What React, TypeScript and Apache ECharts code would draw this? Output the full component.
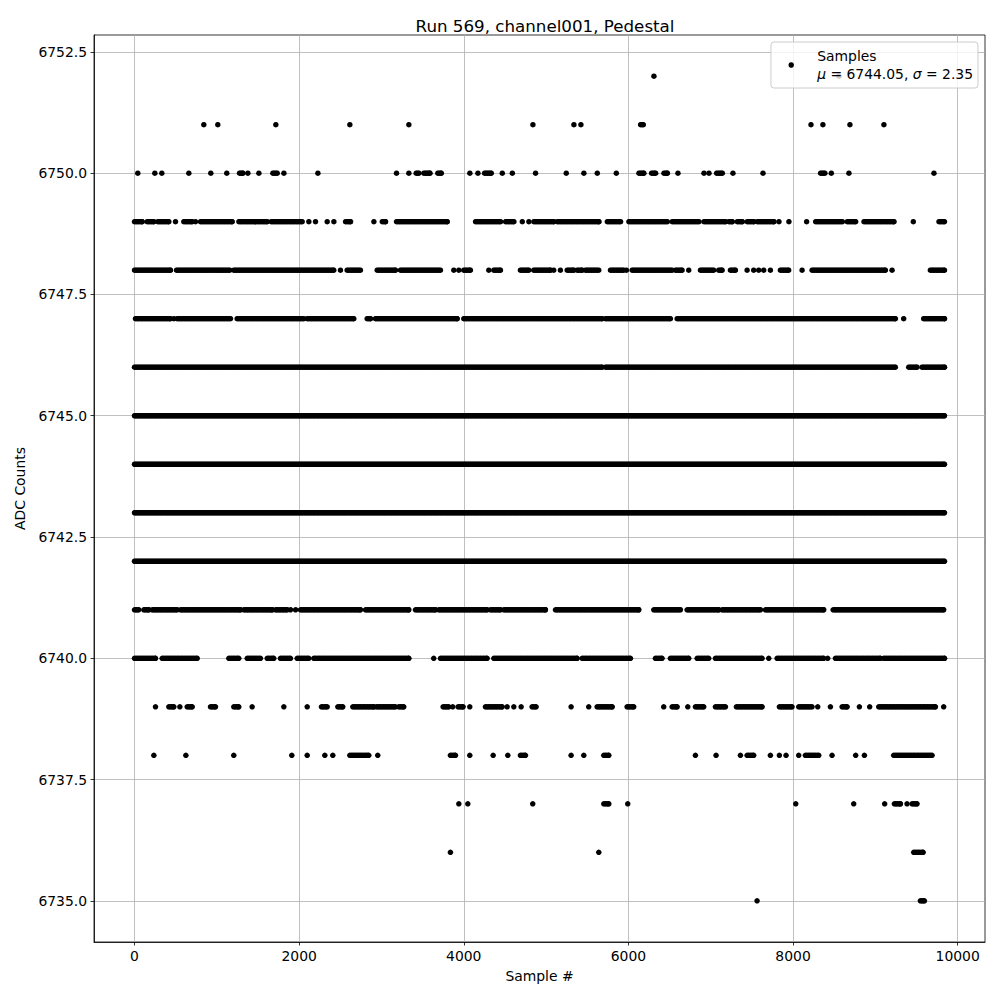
import React, { useEffect, useRef } from "react";
import * as echarts from "echarts";

type Run = number | [number, number];

const chartTitle = "Run 569, channel001, Pedestal";
const xAxisName = "Sample #";
const yAxisName = "ADC Counts";
const legendName = "Samples";
const legendStats = "{i|μ} = 6744.05, {i|σ} = 2.35";

const xTicks = [0, 2000, 4000, 6000, 8000, 10000];
const yTicks = [6735, 6737.5, 6740, 6742.5, 6745, 6747.5, 6750, 6752.5];
const xRange = [-492, 10332];
const yRange = [6734.15, 6752.85];

// Sample indices for each ADC level.
// A number is a single sample; a pair is a stretch of consecutive samples at that level.
const level6752: Run[] = [6310, 8558];
const level6751: Run[] = [842, 1012, 1717, 2616, 3333, 4840, 5338, 5423, [6148, 6181], 8218, 8363, 8691, 9104];
const level6750: Run[] = [40, 247, 332, 660, 927, 1121, [1276, 1316], 1377, 1511, [1681, 1734], 1815, 2228, 3183, 3333, [3422, 3454], [3515, 3588], [3685, 3727], 4074, 4172, [4253, 4334], 4468, 4590, 4872, 5245, 5459, 5622, 5853, [6128, 6188], [6282, 6331], [6432, 6473], 6602, 6918, 6979, [7072, 7141], 7270, 7635, [8335, 8387], 8465, 8679, 9712];
const level6749: Run[] = [[0, 93], [154, 235], [283, 417], 498, [599, 701], 741, [802, 1187], [1268, 1470], [1491, 1612], [1661, 2037], 2118, 2199, 2341, 2422, [2564, 2625], 2908, [3010, 3050], [3183, 3799], [4143, 4447], [4508, 4609], 4711, 4791, [4852, 5095], [5136, 5641], [5744, 5905], [6006, 6473], [6533, 6857], [6918, 7181], [7221, 7262], [7323, 7384], [7444, 7525], [7566, 7768], 7829, 7950, 8165, [8275, 8599], [8659, 8761], [8862, 9226], 9461, [9773, 9840]];
const level6748: Run[] = [[0, 437], [510, 1158], [1206, 2421], 2502, [2583, 2745], [2948, 3170], [3231, 3717], 3879, 3940, [4000, 4081], 4304, [4365, 4446], [4688, 4790], [4850, 5053], 5093, 5174, [5256, 5336], [5377, 5438], [5478, 5640], [5782, 5943], 5976, [6045, 6531], [6571, 6652], 6733, [6875, 7036], [7097, 7138], [7239, 7300], 7442, 7522, 7583, 7644, 7725, [7846, 7947], 8110, [8231, 9122], 9203, [9668, 9840]];
const level6747: Run[] = [[12, 437], 478, [518, 1166], [1247, 2057], [2098, 2664], [2826, 2867], [2927, 3920], [4000, 5680], [5721, 6510], [6592, 9243], 9344, [9587, 9840]];
const level6746: Run[] = [[0, 5680], [5721, 9243], [9405, 9506], [9567, 9840]];
const level6745: Run[] = [[0, 9840]];
const level6744: Run[] = [[0, 9840]];
const level6743: Run[] = [[0, 9840]];
const level6742: Run[] = [[0, 9840]];
const level6741: Run[] = [[0, 50], [113, 174], [215, 518], [559, 1288], [1328, 1672], [1713, 1855], 1895, 1956, [2016, 2745], [2806, 3332], [3413, 3656], [3696, 4284], [4324, 4446], [4486, 4992], [5114, 6126], [6308, 6632], [6713, 7097], [7138, 7604], [7664, 8373], [8487, 9830]];
const level6740: Run[] = [[0, 255], [336, 762], [1146, 1267], [1369, 1530], [1612, 1692], [1773, 1895], [1976, 2117], [2178, 3332], 3635, [3717, 4284], [4365, 5377], [5438, 6025], [6328, 6409], [6510, 6733], [6835, 6976], [7057, 7624], 7705, [7806, 8373], 8421, [8515, 9061], [9101, 9840]];
const level6739: Run[] = [255, [417, 478], 551, [640, 701], [923, 984], [1206, 1267], 1429, 1814, 2098, [2271, 2341], [2470, 2530], [2652, 2907], [2939, 3170], [3210, 3271], [3749, 3818], 3866, [3931, 3992], 4073, [4263, 4466], 4527, 4608, 4697, [4830, 4879], 5304, 5518, [5620, 5802], [5984, 6065], 6429, [6531, 6592], 6721, [6814, 6915], [7057, 7179], [7312, 7624], [7834, 7988], [8069, 8231], 8300, 8454, [8596, 8657], 8806, 8931, [9041, 9729], 9830];
const level6738: Run[] = [235, 624, 1206, 1911, 2098, 2312, 2409, [2616, 2846], 2955, [3838, 3899], 4073, 4357, 4535, [4688, 4749], 5304, 5458, [5701, 5762], 6814, 7065, 7361, [7442, 7522], 7725, 7834, 7915, 8069, [8150, 8312], 8474, 8761, 8867, [9223, 9689]];
const level6737: Run[] = [3940, 4049, 4838, [5701, 5762], 5992, 8033, 8737, 9113, [9231, 9304], 9385, [9446, 9506]];
const level6736: Run[] = [3838, 5640, [9466, 9580]];
const level6735: Run[] = [7563, [9547, 9596]];

const levels: [number, Run[]][] = [
  [6752, level6752], [6751, level6751], [6750, level6750], [6749, level6749],
  [6748, level6748], [6747, level6747], [6746, level6746], [6745, level6745],
  [6744, level6744], [6743, level6743], [6742, level6742], [6741, level6741],
  [6740, level6740], [6739, level6739], [6738, level6738], [6737, level6737],
  [6736, level6736], [6735, level6735],
];

const RUN_STEP = 18;

function buildData(): [number, number][] {
  const out: [number, number][] = [];
  for (const [y, runs] of levels) {
    for (const r of runs) {
      if (typeof r === "number") {
        out.push([r, y]);
      } else {
        const [a, b] = r;
        for (let x = a; x < b; x += RUN_STEP) out.push([x, y]);
        out.push([b, y]);
      }
    }
  }
  return out;
}

const FONT = "DejaVu Sans";

export default function App() {
  const ref = useRef<HTMLDivElement>(null);
  useEffect(() => {
    if (!ref.current) return;
    const chart = echarts.init(ref.current, undefined, { renderer: "svg" });
    const axisCommon = {
      type: "value" as const,
      nameLocation: "middle" as const,
      nameTextStyle: { fontFamily: FONT, fontSize: 13.9, color: "#000" },
      axisLine: { show: true, onZero: false, lineStyle: { color: "#000", width: 0.8 } },
      splitLine: { show: true, lineStyle: { color: "#b0b0b0", width: 0.8 } },
    };
    chart.setOption({
      animation: false,
      textStyle: { fontFamily: FONT },
      title: {
        text: chartTitle,
        left: 540,
        top: 12,
        textAlign: "center",
        textStyle: { fontFamily: FONT, fontSize: 16.7, fontWeight: "normal", color: "#000" },
      },
      grid: {
        left: 94, right: 15, top: 35, bottom: 58,
        show: true, borderColor: "#000", borderWidth: 0.8, backgroundColor: "transparent",
      },
      legend: {
        data: [legendName],
        right: 22,
        top: 42,
        backgroundColor: "rgba(255,255,255,0.8)",
        borderColor: "#cccccc",
        borderWidth: 1,
        borderRadius: 3,
        padding: [5, 5, 5, 17.5],
        itemWidth: 42,
        itemHeight: 5.5,
        icon: "circle",
        itemStyle: { color: "#000" },
        formatter: () => legendName + "\n" + legendStats,
        textStyle: {
          fontFamily: FONT, fontSize: 13.9, color: "#000", lineHeight: 18,
          rich: { i: { fontStyle: "italic", fontFamily: FONT, fontSize: 13.9, color: "#000", lineHeight: 18 } },
        },
      },
      xAxis: {
        ...axisCommon,
        name: xAxisName,
        nameGap: 27,
        min: xRange[0],
        max: xRange[1],
        axisTick: { show: true, length: 3.5, customValues: xTicks, lineStyle: { color: "#000", width: 0.8 } },
        axisLabel: {
          customValues: xTicks, margin: 7, color: "#000", fontSize: 13.9, fontFamily: FONT,
          formatter: (v: number) => String(Math.round(v)),
        },
      },
      yAxis: {
        ...axisCommon,
        name: yAxisName,
        nameGap: 66,
        min: yRange[0],
        max: yRange[1],
        axisTick: { show: true, length: 3.5, customValues: yTicks, lineStyle: { color: "#000", width: 0.8 } },
        axisLabel: {
          customValues: yTicks, margin: 7, color: "#000", fontSize: 13.9, fontFamily: FONT,
          formatter: (v: number) => v.toFixed(1),
        },
      },
      series: [
        {
          name: legendName,
          type: "scatter",
          data: buildData(),
          symbol: "circle",
          symbolSize: 5.5,
          itemStyle: { color: "#000", opacity: 1 },
          silent: true,
          progressive: 0,
          large: false,
        },
      ],
    });
    return () => chart.dispose();
  }, []);
  return (
    <div
      ref={ref}
      style={{ position: "absolute", left: 0, top: 0, width: 1000, height: 1000, background: "#fff" }}
    />
  );
}
